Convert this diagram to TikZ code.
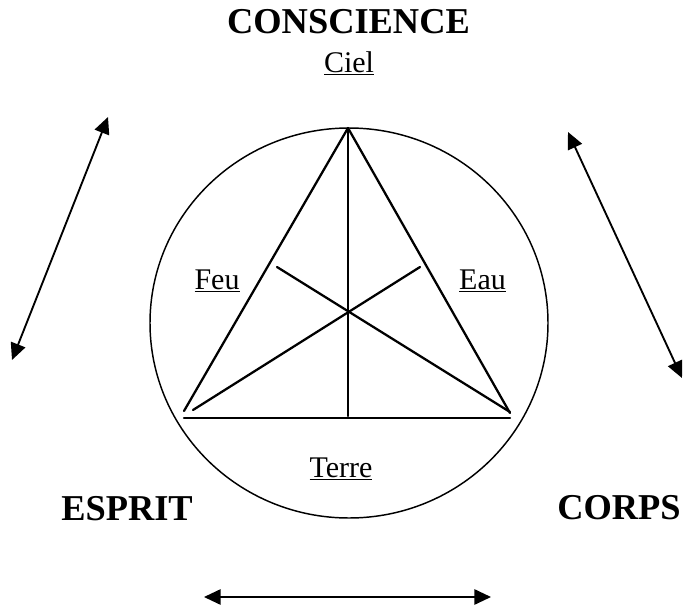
\documentclass[tikz,border=0pt]{standalone}
\usepackage{fontspec}
\setmainfont{Liberation Serif}
\usetikzlibrary{arrows.meta}

\begin{document}
\begin{tikzpicture}[
    x=0.75pt, y=-0.75pt,
    % Titres en gras, éléments soulignés
    titre/.style={anchor=base, inner sep=0pt, font=\bfseries\fontsize{27.3}{32}\selectfont},
    element/.style={anchor=base, inner sep=0pt, font=\fontsize{22.5}{27}\selectfont},
    trait/.style={line width=1.7pt, line cap=round},
    fleche/.style={{Triangle[length=12.5pt,width=11.5pt]}-{Triangle[length=12.5pt,width=11.5pt]}, line width=1.4pt}
]
    \useasboundingbox (0,0) rectangle (683,607);

    % --- CERCLE ---
    \coordinate (centre) at (349,323);
    \draw[line width=1.1pt] (centre) ellipse [x radius=199, y radius=195];

    % --- SOMMETS DU TRIANGLE ---
    \coordinate (haut)    at (348,128);
    \coordinate (gauche)  at (184,411);
    \coordinate (droite)  at (510,413);
    \coordinate (baseG)   at (184,418);
    \coordinate (baseD)   at (510,418);
    \coordinate (pied)    at (348,416);
    \coordinate (medG)    at (193,410);
    \coordinate (medD)    at (510,412);
    \coordinate (finG)    at (277,267);
    \coordinate (finD)    at (420,267);

    % --- COTES ET MEDIANES ---
    \draw[trait] (haut) -- (gauche);
    \draw[trait] (haut) -- (droite);
    \draw[trait] (baseG) -- (baseD);
    \draw[trait] (haut) -- (pied);
    \draw[trait] (medG) -- (finD);
    \draw[trait] (medD) -- (finG);

    % --- TEXTES ---
    \node[titre]   (conscience) at (348.5,33) {CONSCIENCE};
    \node[element] (ciel)       at (349,72)   {\underline{Ciel}};
    \node[element] (feu)        at (217,289)  {\underline{Feu}};
    \node[element] (eau)        at (482.5,289) {\underline{Eau}};
    \node[element] (terre)      at (341,477)  {\underline{Terre}};
    \node[titre]   (esprit)     at (127,520)  {ESPRIT};
    \node[titre]   (corps)      at (619,519)  {CORPS};

    % --- FLECHES ---
    \coordinate (flGh) at (108,117);
    \coordinate (flGb) at (12,360);
    \coordinate (flDh) at (568,132);
    \coordinate (flDb) at (682,378);
    \coordinate (flBg) at (204,597);
    \coordinate (flBd) at (491,597);

    \draw[fleche] (flGb) -- (flGh);
    \draw[fleche] (flDh) -- (flDb);
    \draw[fleche] (flBg) -- (flBd);

\end{tikzpicture}
\end{document}
